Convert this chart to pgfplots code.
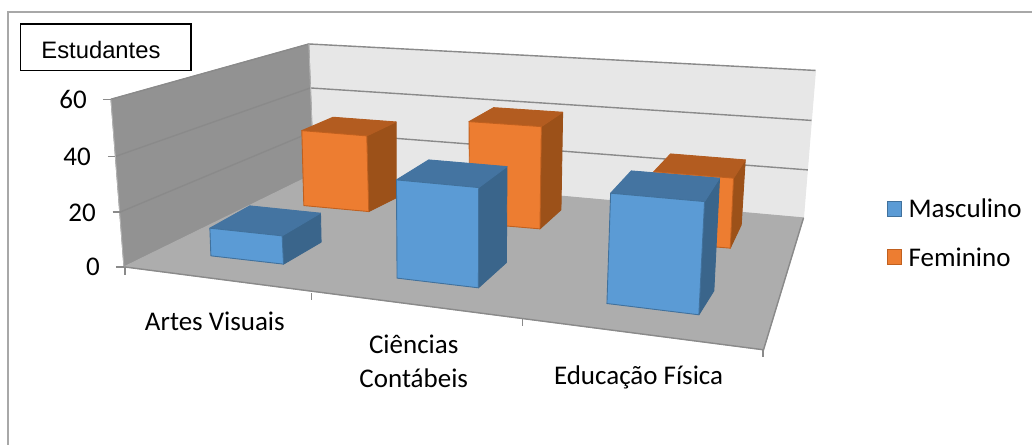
\documentclass[border=0pt]{standalone}
\usepackage{pgfplots}
\pgfplotsset{compat=1.18}
\usepackage{fontspec}
\setmainfont{Carlito}
\newfontfamily\arial{Liberation Sans}
\definecolor{bfront}{HTML}{5B9BD5}
\definecolor{bedge}{HTML}{41719C}
\definecolor{btop}{HTML}{4474A1}
\definecolor{bside}{HTML}{3A658B}
\definecolor{ofront}{HTML}{ED7D31}
\definecolor{oedge}{HTML}{C0601F}
\definecolor{otop}{HTML}{B35C20}
\definecolor{oside}{HTML}{9C5119}
\definecolor{floorc}{HTML}{ADADAD}
\definecolor{wallc}{HTML}{929292}
\definecolor{backc}{HTML}{E7E7E7}
\definecolor{gridc}{HTML}{8A8A8A}
\definecolor{framec}{HTML}{A8A8A8}
\newcommand\poly[3]{\addplot[fill=#1,draw=#2,line width=0.9pt,line join=round] coordinates {#3} -- cycle;}
\newcommand\seg[1]{\addplot[draw=gridc,line width=1.4pt] coordinates {#1};}
\newcommand\bigfont{\fontsize{27}{32}\selectfont}
\begin{document}
\begin{tikzpicture}
\begin{axis}[
  scale only axis, width=1033pt, height=445pt,
  xmin=0, xmax=1033, ymin=0, ymax=445, y dir=reverse,
  axis lines=none, clip=false]
% page
\addplot[fill=white,draw=none] coordinates {(0,0)(1033,0)(1033,445)(0,445)} -- cycle;
% outer frame
\addplot[draw=framec,line width=1.3pt] coordinates {(8,445)(8,12)(1033,12)};
% back wall, left wall, floor
\poly{backc}{backc}{(309,44)(816,70.5)(804,218)(314,174)}
\poly{wallc}{wallc}{(111,99.3)(309,44)(314,174)(124,267)}
\poly{floorc}{floorc}{(124,267)(314,174)(804,218)(764,350)}
% grid lines on the walls
\seg{(111,99.3)(309,44)(816,70.5)}
\seg{(115,156.7)(310.5,88)(812,120.5)}
\seg{(120.7,212)(312,132)(808.3,170)}
\seg{(124,267)(764,350)(804,218)}
\addplot[draw=wallc!70!white,line width=0.8pt] coordinates {(111,99.3)(124,267)};
\addplot[draw=wallc!70!white,line width=0.8pt] coordinates {(309,44)(314,174)};
% y ticks
\seg{(103,99.3)(111,99.3)}
\seg{(108,156.7)(115,156.7)}
\seg{(112.7,212)(120.7,212)}
\seg{(116,267)(124,267)}
% x ticks
\seg{(125,267)(125,275)}
\seg{(311.5,293)(311.5,300)}
\seg{(522.7,319)(522.7,326)}
\seg{(763.5,350)(763.5,357)}
% Feminino, Artes Visuais
\poly{oside}{oside}{(367,136)(396.3,122)(396.3,198)(369,211.7)}
\poly{otop}{otop}{(302,130.7)(333.3,117.3)(396.3,122)(367,136)}
\poly{ofront}{oedge}{(302,130.7)(367,136)(369,211.7)(304,205.7)}
% Masculino, Artes Visuais
\poly{bside}{bside}{(282.3,236)(320.7,213.3)(321.3,242.3)(283.7,264.3)}
\poly{btop}{btop}{(210,228.3)(250,206)(320.7,213.3)(282.3,236)}
\poly{bfront}{bedge}{(210,228.3)(282.3,236)(283.7,264.3)(211,256)}
% Feminino, Ciencias Contabeis
\poly{oside}{oside}{(541.7,126.7)(563,112.3)(561.3,210)(540.3,229)}
\poly{otop}{otop}{(469.3,121.7)(494,107.7)(563,112.3)(541.7,126.7)}
\poly{ofront}{oedge}{(469.3,121.7)(541.7,126.7)(540.3,229)(470,223)}
% Masculino, Ciencias Contabeis
\poly{bside}{bside}{(479,187.7)(507.3,166.7)(506.7,262.7)(478.7,288)}
\poly{btop}{btop}{(396.7,180)(429,160)(507.3,166.7)(479,187.7)}
\poly{bfront}{bedge}{(396.7,180)(479,187.7)(478.7,288)(397.3,278.3)}
% Feminino, Educacao Fisica
\poly{oside}{oside}{(734,178.3)(745.7,160)(741.7,225)(730.7,248.3)}
\poly{otop}{otop}{(654.3,171.7)(671,154)(745.7,160)(734,178.3)}
\poly{ofront}{oedge}{(654.3,171.7)(734,178.3)(730.7,248.3)(652,242)}
% Masculino, Educacao Fisica
\poly{bside}{bside}{(705,201.7)(720,178.3)(714.3,291)(699.3,315)}
\poly{btop}{btop}{(611,193.3)(631.7,171)(720,178.3)(705,201.7)}
\poly{bfront}{bedge}{(611,193.3)(705,201.7)(699.3,315)(607.3,303.7)}
% legend swatches
\poly{bfront}{bedge}{(887.5,201.5)(902.3,201.5)(902.3,216.7)(887.5,216.7)}
\poly{ofront}{oedge}{(887.5,249.5)(902.3,249.5)(902.3,264.7)(887.5,264.7)}
% Estudantes box
\addplot[fill=white,draw=black,line width=1.8pt] coordinates {(20.5,24)(191.5,24)(191.5,70.5)(20.5,70.5)} -- cycle;
\node[anchor=center,inner sep=0pt] at (axis cs:101,50) {\fontsize{23.8}{28}\selectfont\arial Estudantes};
% texts
\node[anchor=east,inner sep=0pt] at (axis cs:87,100) {\bigfont 60};
\node[anchor=east,inner sep=0pt] at (axis cs:91,157) {\bigfont 40};
\node[anchor=east,inner sep=0pt] at (axis cs:96,213) {\bigfont 20};
\node[anchor=east,inner sep=0pt] at (axis cs:100,267) {\bigfont 0};
\node[inner sep=0pt] at (axis cs:215,322) {\bigfont Artes Visuais};
\node[inner sep=0pt] at (axis cs:414,345) {\bigfont Ciências};
\node[inner sep=0pt] at (axis cs:414,378) {\bigfont Contábeis};
\node[inner sep=0pt] at (axis cs:639,378) {\bigfont Educação Física};
\node[anchor=west,inner sep=0pt] at (axis cs:909,208.5) {\bigfont Masculino};
\node[anchor=west,inner sep=0pt] at (axis cs:909,257) {\bigfont Feminino};
\end{axis}
\end{tikzpicture}
\end{document}
